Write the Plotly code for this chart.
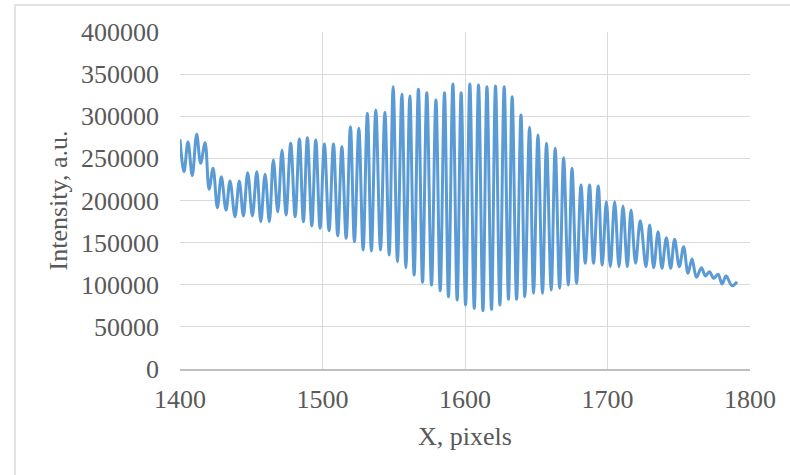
import plotly.graph_objects as go

# Peak / trough points
x_pixels = [
    1400.0, 1402.8, 1405.6, 1408.6, 1411.7, 1414.5, 1417.6, 1420.4, 1423.2, 1426.2,
    1429.0, 1432.3, 1435.1, 1438.6, 1441.6, 1444.5, 1447.5, 1450.8, 1453.9, 1456.7,
    1459.7, 1462.7, 1465.5, 1468.6, 1471.6, 1474.4, 1477.7, 1480.8, 1483.8, 1486.6,
    1489.4, 1492.5, 1495.3, 1498.3, 1501.3, 1504.6, 1507.7, 1510.7, 1513.6, 1516.6,
    1519.6, 1522.4, 1525.5, 1528.5, 1531.5, 1534.3, 1537.4, 1540.7, 1543.8, 1546.8,
    1549.6, 1552.6, 1555.7, 1558.5, 1561.3, 1564.3, 1567.3, 1570.2, 1573.2, 1576.5,
    1579.6, 1582.6, 1585.6, 1588.4, 1591.5, 1594.5, 1597.3, 1600.4, 1603.4, 1606.5,
    1609.5, 1612.6, 1615.4, 1618.6, 1621.4, 1624.5, 1627.5, 1630.5, 1633.1, 1636.2,
    1639.3, 1642.0, 1645.3, 1648.1, 1651.2, 1654.4, 1657.2, 1660.5, 1663.3, 1666.4,
    1669.2, 1672.5, 1675.1, 1678.3, 1681.4, 1684.4, 1687.4, 1690.2, 1693.5, 1696.3,
    1699.2, 1702.0, 1705.0, 1708.1, 1710.9, 1713.9, 1716.5, 1719.7, 1723.0, 1727.0,
    1729.6, 1732.4, 1735.5, 1738.2, 1741.3, 1744.3, 1747.1, 1750.4, 1753.4, 1756.5,
    1759.3, 1762.4, 1765.9, 1768.7, 1771.5, 1774.5, 1777.6, 1780.4, 1783.2, 1787.4,
    1790.9,
]
intensity = [
    272700, 234200, 269800, 229500, 278600, 244100, 268600, 213300, 238200, 191500,
    228300, 188700, 223200, 180800, 223200, 181600, 233000, 181600, 234200, 174900,
    231100, 174900, 248100, 186700, 260000, 182800, 267900, 180800, 273000, 174900,
    274600, 169800, 271800, 167000, 267100, 164200, 267100, 158200, 263900, 155100,
    287600, 151100, 285700, 141300, 303500, 140100, 307400, 141300, 304700, 135300,
    335100, 127400, 326100, 120200, 324000, 111600, 332000, 102900, 328000, 99700,
    319300, 92900, 328000, 85800, 338300, 81900, 328000, 76000, 338300, 72000,
    337100, 69200, 335100, 70800, 336000, 76000, 335100, 82700, 323200, 82700,
    301500, 85800, 286900, 89900, 277800, 89900, 267900, 93800, 262000, 95800,
    250800, 99700, 238200, 101700, 218400, 125500, 218400, 125500, 217200, 123400,
    198600, 121400, 198600, 121400, 193500, 121400, 188700, 125500, 176000, 121400,
    170900, 120200, 163000, 119500, 155900, 119500, 153900, 121400, 145200, 113600,
    130600, 108800, 120200, 110400, 115500, 107700, 112400, 100900, 110400, 98900,
    103600,
]

x_ticks = [1400, 1500, 1600, 1700, 1800]
y_ticks = [0, 50000, 100000, 150000, 200000, 250000, 300000, 350000, 400000]

W, H = 790, 475
L, R, T, B = 180, 40, 32, 106
pw, ph = W - L - R, H - T - B

text_col = "#595959"
grid_col = "#D9D9D9"
font_fam = "Liberation Serif, Times New Roman, serif"

fig = go.Figure()
fig.add_trace(go.Scatter(
    x=x_pixels, y=intensity, mode="lines",
    line=dict(color="#5B9BD5", width=3, shape="spline", smoothing=1.0),
    showlegend=False, hoverinfo="x+y",
))

# chart-area border (extends past the window on the right and bottom)
def px_to_paper_x(px):
    return (px - L) / pw

def px_to_paper_y(py):
    return (H - B - py) / ph

fig.add_shape(type="rect", xref="paper", yref="paper",
              x0=px_to_paper_x(15), x1=px_to_paper_x(820),
              y0=px_to_paper_y(500), y1=px_to_paper_y(5),
              line=dict(color=grid_col, width=1.5), fillcolor="rgba(0,0,0,0)",
              layer="below")

fig.update_layout(
    width=W, height=H,
    margin=dict(l=L, r=R, t=T, b=B),
    paper_bgcolor="white", plot_bgcolor="white",
    font=dict(family=font_fam, size=26, color=text_col),
    xaxis=dict(
        range=[1400, 1800], tickvals=x_ticks, ticktext=[str(v) for v in x_ticks],
        showgrid=True, gridcolor=grid_col, gridwidth=1,
        showline=True, linecolor="#BFBFBF", linewidth=1.5,
        zeroline=False, ticks="", ticklabelstandoff=6,
        title=dict(text="X, pixels", font=dict(size=26, color=text_col), standoff=14),
        tickfont=dict(size=26, color=text_col),
    ),
    yaxis=dict(
        range=[0, 400000], tickvals=y_ticks, ticktext=[str(v) for v in y_ticks],
        showgrid=True, gridcolor=grid_col, gridwidth=1,
        showline=False, zeroline=False, ticks="", ticklabelstandoff=20,
        title=dict(text="Intensity, a.u.", font=dict(size=26, color=text_col), standoff=5),
        tickfont=dict(size=26, color=text_col),
    ),
)

fig.write_html("out.html")
